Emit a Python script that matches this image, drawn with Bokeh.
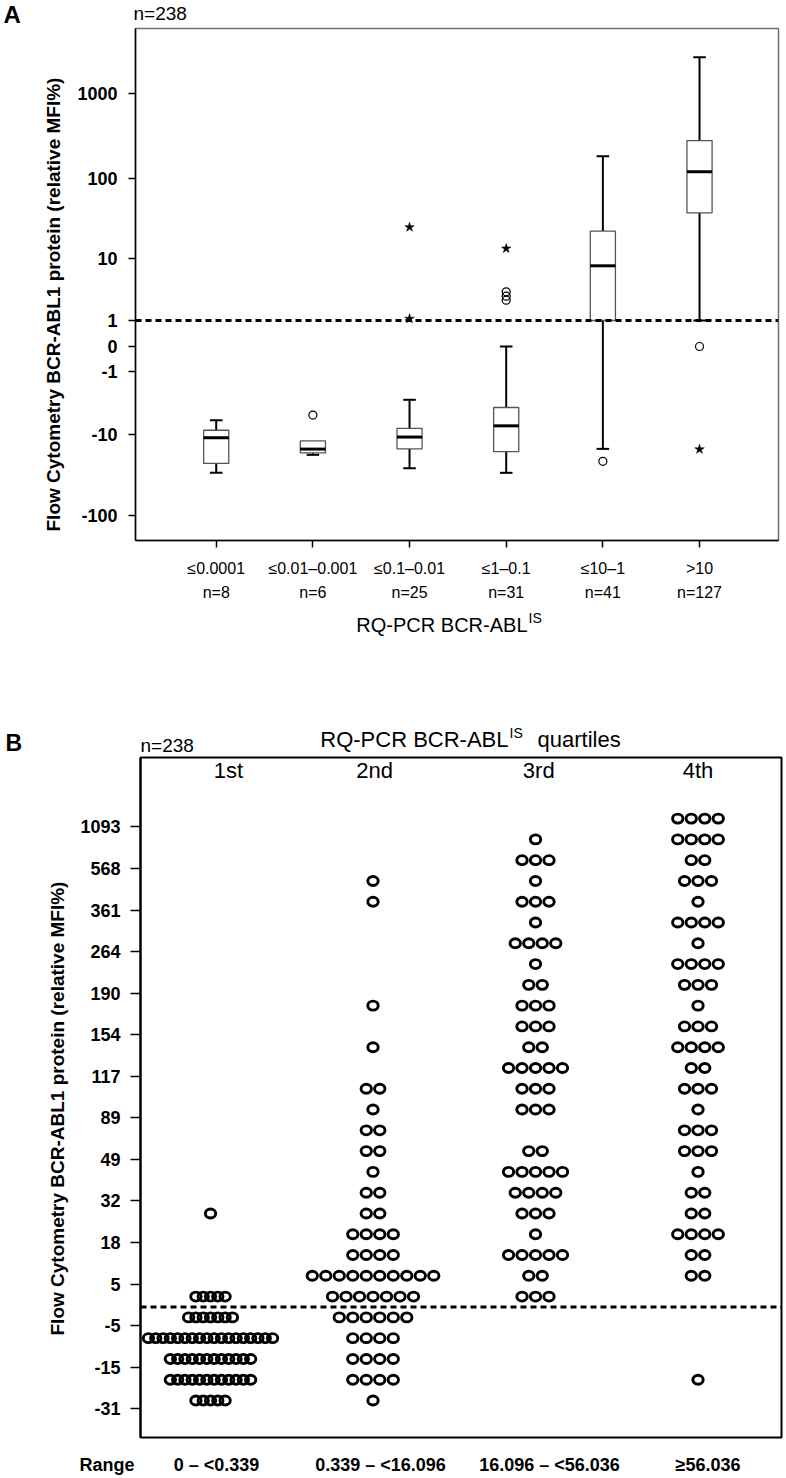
import numpy as np
from bokeh.plotting import figure
from bokeh.models import Range1d, FixedTicker, Span, ColumnDataSource
from bokeh.core.properties import value
from bokeh.layouts import column, row
from bokeh.embed import file_html
from bokeh.resources import INLINE

FONT = "Liberation Sans"

# ---------------- Panel A data ----------------
groups = ["≤0.0001", "≤0.01–0.001", "≤0.1–0.01", "≤1–0.1", "≤10–1", ">10"]
group_n = [8, 6, 25, 31, 41, 127]
whisker_low = [-30.4, -18.2, -26.7, -30.4, -15.3, 1.0]
q1 = [-23.3, -17.2, -15.3, -16.6, 1.0, 38.0]
median = [-11.0, -15.4, -10.8, -7.7, 8.0, 120.0]
q3 = [-8.8, -12.1, -8.3, -4.3, 22.5, 280.0]
whisker_high = [-6.5, -12.1, -3.3, 0.0, 183.0, 2660.0]
circle_group = [2, 4, 4, 4, 5, 6]
circle_value = [-5.5, 3.4, 2.9, 2.5, -21.9, 0.0]
star_group = [3, 3, 4, 6]
star_value = [25.2, 1.1, 13.5, -15.5]
a_tick_values = [-100, -10, -1, 0, 1, 10, 100, 1000]
a_tick_labels = ["-100", "-10", "-1", "0", "1", "10", "100", "1000"]
# position of each tick on the original's custom (signed log) axis
a_tick_pos = [25, 106, 169, 194, 220, 282, 362, 447]
threshold_value = 1

# ---------------- Panel B data ----------------
quartiles = ["1st", "2nd", "3rd", "4th"]
ranges = ["0 – <0.339", "0.339 – <16.096", "16.096 – <56.036", "≥56.036"]
b_tick_labels = ["-31", "-15", "-5", "5", "18", "32", "49", "89", "117",
                 "154", "190", "264", "361", "568", "1093"]
# number of dots in each row (row 0 = bottom; two rows per tick interval)
q1_counts = [5, 12, 12, 18, 7, 5, 0, 0, 0, 1, 0, 0, 0, 0, 0, 0, 0, 0, 0, 0,
             0, 0, 0, 0, 0, 0, 0, 0, 0]
q2_counts = [1, 4, 4, 4, 6, 7, 10, 4, 4, 2, 2, 1, 2, 2, 1, 2, 0, 1, 0, 1,
             0, 0, 0, 0, 1, 1, 0, 0, 0]
q3_counts = [0, 0, 0, 0, 0, 3, 2, 5, 1, 3, 4, 5, 2, 0, 3, 3, 5, 2, 3, 3,
             2, 1, 4, 1, 3, 1, 3, 1, 0]
q4_counts = [0, 1, 0, 0, 0, 0, 2, 2, 4, 2, 2, 1, 3, 3, 1, 3, 2, 4, 3, 1,
             3, 4, 1, 4, 1, 3, 2, 4, 4]
b_cutoff_row = 4.5  # dashed line lies between row 4 and row 5

Y_TITLE = "Flow Cytometry BCR-ABL1 protein (relative MFI%)"


def slog(v):
    v = np.asarray(v, dtype=float)
    return np.sign(v) * np.log10(1.0 + np.abs(v))


_s_anchor = slog(a_tick_values)
_p_anchor = np.array(a_tick_pos, dtype=float)


def to_axis(v):
    s = slog(v)
    out = np.interp(s, _s_anchor, _p_anchor)
    hi = (_p_anchor[-1] - _p_anchor[-2]) / (_s_anchor[-1] - _s_anchor[-2])
    lo = (_p_anchor[1] - _p_anchor[0]) / (_s_anchor[1] - _s_anchor[0])
    out = np.where(s > _s_anchor[-1], _p_anchor[-1] + (s - _s_anchor[-1]) * hi, out)
    out = np.where(s < _s_anchor[0], _p_anchor[0] + (s - _s_anchor[0]) * lo, out)
    return out


_frame_bottom = {}


def text_fig(w, h, mb_top=0, mb_bottom=0):
    fh = h - mb_top - mb_bottom
    f = figure(width=w, height=h, output_backend="svg", toolbar_location=None,
               x_range=Range1d(0, w), y_range=Range1d(0, fh),
               min_border_left=0, min_border_right=0,
               min_border_top=mb_top, min_border_bottom=mb_bottom,
               x_axis_location=None, y_axis_location=None)
    f.outline_line_color = None
    for g in f.grid:
        g.visible = False
    _frame_bottom[id(f)] = h - mb_bottom
    return f


def put(f, x, y_top, txt, size, bold=False, align="left", baseline="middle", angle=0.0):
    f.text(x=[x], y=[_frame_bottom[id(f)] - y_top], text=[txt], text_font=value(FONT),
           text_font_size=value(f"{size}px"),
           text_font_style="bold" if bold else "normal",
           text_align=align, text_baseline=baseline, angle=angle,
           text_color="black")


def style_axis(ax, size, bold, tick_out, standoff, line_w):
    ax.major_label_text_font = FONT
    ax.major_label_text_font_style = "bold" if bold else "normal"
    ax.major_label_text_font_size = f"{size}px"
    ax.major_label_text_color = "black"
    ax.major_label_standoff = standoff
    ax.major_tick_out = tick_out
    ax.major_tick_in = 0
    ax.major_tick_line_width = 1.5
    ax.major_tick_line_color = "black"
    ax.minor_tick_line_color = None
    ax.axis_line_color = "black"
    ax.axis_line_width = line_w


# ======================= header A =======================
headA = text_fig(785, 27)
put(headA, 3, 13.5, "A", 24, bold=True)
put(headA, 133, 12.5, "n=238", 19)

# ======================= Panel A =======================
# same borders as pA so that its frame lines up with pA's frame
ylabA = text_fig(70, 581, mb_top=1, mb_bottom=68)
# text starts at the bottom ("F" at y = 531 in the page) and runs upward
put(ylabA, 53, 504, Y_TITLE, 19, bold=True, align="left", angle=np.pi / 2)

pA = figure(width=715, height=581, output_backend="svg", toolbar_location=None,
            x_range=Range1d(0.165, 6.817), y_range=Range1d(0, 512),
            min_border_left=65, min_border_right=7, min_border_top=1,
            min_border_bottom=68)
pA.xgrid.visible = False
pA.ygrid.visible = False
pA.outline_line_color = "#707070"
pA.outline_line_width = 1.5

xs = np.arange(1, len(groups) + 1, dtype=float)
wl, wh = to_axis(whisker_low), to_axis(whisker_high)
bq1, bq3, bmed = to_axis(q1), to_axis(q3), to_axis(median)

pA.segment(x0=xs, y0=bq3, x1=xs, y1=wh, line_color="black", line_width=2)
pA.segment(x0=xs, y0=bq1, x1=xs, y1=wl, line_color="black", line_width=2)
cap_hi = wh != bq3
cap_lo = wl != bq1
pA.segment(x0=xs[cap_hi] - 0.065, y0=wh[cap_hi], x1=xs[cap_hi] + 0.065, y1=wh[cap_hi],
           line_color="black", line_width=2)
pA.segment(x0=xs[cap_lo] - 0.065, y0=wl[cap_lo], x1=xs[cap_lo] + 0.065, y1=wl[cap_lo],
           line_color="black", line_width=2)
pA.vbar(x=xs, width=0.26, bottom=bq1, top=bq3, fill_color="white",
        line_color="#555555", line_width=1.3)
pA.segment(x0=xs - 0.13, y0=bmed, x1=xs + 0.13, y1=bmed, line_color="black", line_width=3)

pA.scatter(x=np.array(circle_group, float), y=to_axis(circle_value), marker="circle",
           size=8, fill_color=None, line_color="black", line_width=1.2)
pA.scatter(x=np.array(star_group, float), y=to_axis(star_value), marker="star",
           size=10, fill_color="black", line_color="black", line_width=0.5)

pA.add_layout(Span(location=float(to_axis(threshold_value)), dimension="width",
                   line_color="black", line_width=3, line_dash="6 4"))

ya = pA.yaxis[0]
ya.ticker = FixedTicker(ticks=a_tick_pos)
ya.major_label_overrides = {int(p): l for p, l in zip(a_tick_pos, a_tick_labels)}
style_axis(ya, 18, True, 7, 11, 1.5)

xa = pA.xaxis[0]
xa.ticker = FixedTicker(ticks=list(range(1, len(groups) + 1)))
xa.major_label_overrides = {i + 1: f"{g}\nn={n}" for i, (g, n) in enumerate(zip(groups, group_n))}
style_axis(xa, 16, False, 7, 12, 1.5)
xa.major_label_text_line_height = 1.45

# ======================= middle texts =======================
mid = text_fig(785, 147)
put(mid, 527, 16, "RQ-PCR BCR-ABL", 20, align="right")
put(mid, 528, 9, "IS", 14)
put(mid, 5, 134, "B", 23, bold=True)
put(mid, 140, 137, "n=238", 19)
put(mid, 508, 131, "RQ-PCR BCR-ABL", 22, align="right")
put(mid, 509, 124.5, "IS", 14)
put(mid, 537, 131, "quartiles", 22)

# ======================= Panel B =======================
ylabB = text_fig(72, 684, mb_top=2, mb_bottom=2)
# text starts at the bottom ("F" at y = 1335 in the page) and runs upward
put(ylabB, 57, 580, Y_TITLE, 19, bold=True, align="left", angle=np.pi / 2)

pB = figure(width=713, height=684, output_backend="svg", toolbar_location=None,
            x_range=Range1d(0.5692, 4.5138), y_range=Range1d(-0.69, 15.67),
            min_border_left=68, min_border_right=4, min_border_top=2,
            min_border_bottom=2)
pB.xgrid.visible = False
pB.ygrid.visible = False
pB.outline_line_color = "black"
pB.outline_line_width = 2
pB.xaxis.visible = False

col_counts = [q1_counts, q2_counts, q3_counts, q4_counts]
col_spacing_px = [7.3, 13.5, 13.5, 13.5]
px_per_unit = 162.5
dx, dy = [], []
for ci, counts in enumerate(col_counts):
    step = col_spacing_px[ci] / px_per_unit
    for r, n in enumerate(counts):
        for k in range(n):
            dx.append(ci + 1 + (k - (n - 1) / 2.0) * step)
            dy.append(0.2 + 0.5 * r)
src = ColumnDataSource(dict(x=dx, y=dy))
pB.ellipse(x="x", y="y", width=10.4, height=9.0, width_units="screen",
           height_units="screen", source=src, fill_color=None,
           line_color="black", line_width=2.9)

pB.add_layout(Span(location=0.2 + 0.5 * b_cutoff_row, dimension="width",
                   line_color="black", line_width=3, line_dash="6 4"))

header_x = [1.11, 2.01, 3.02, 4.0]
pB.text(x=header_x, y=[15.36] * 4, text=quartiles, text_font=value(FONT),
        text_font_size=value("22px"), text_align="center", text_baseline="middle",
        text_color="black")

yb = pB.yaxis[0]
yb.ticker = FixedTicker(ticks=list(range(len(b_tick_labels))))
yb.major_label_overrides = {i: l for i, l in enumerate(b_tick_labels)}
style_axis(yb, 18, True, 10, 10, 2)

# ======================= footer B =======================
footB = text_fig(785, 38)
put(footB, 79, 25, "Range", 18, bold=True)
range_label_x = [216, 380, 549, 707.5]
for xpos, r in zip(range_label_x, ranges):
    put(footB, xpos, 25, r, 18, bold=True, align="center")

layout = column(headA, row(ylabA, pA), mid, row(ylabB, pB), footB)
open("out.html", "w").write(file_html(layout, INLINE))
